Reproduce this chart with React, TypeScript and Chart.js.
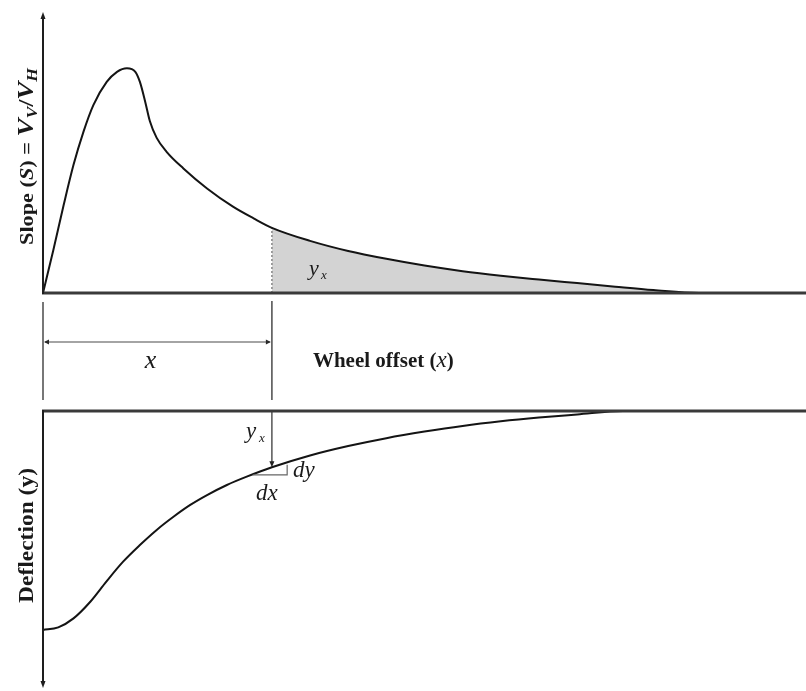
import { useEffect, useRef } from "react";
import { Chart, registerables } from "chart.js";

Chart.register(...registerables);

// Wheel offset (x) positions and the slope S = Vv/Vh read along them
const slopeOffsets = [0, 0.135, 0.27, 0.4, 0.53, 0.66, 0.835, 0.97, 1.1, 1.21, 1.27, 1.34, 1.4, 1.49, 1.62, 1.84, 2.15, 2.49, 2.76, 3.0, 3.5, 4.0, 4.5, 5.0, 5.5, 6.0, 6.5, 7.0, 7.5, 8.0, 8.6, 10];
const slopeValues = [0, 0.19, 0.39, 0.57, 0.717, 0.836, 0.939, 0.984, 1.0, 0.984, 0.939, 0.85, 0.765, 0.69, 0.628, 0.554, 0.465, 0.384, 0.332, 0.29, 0.232, 0.187, 0.152, 0.122, 0.097, 0.077, 0.06, 0.044, 0.028, 0.013, 0, 0];

// Deflection (y) along the same offsets
const deflOffsets = [0, 0.2, 0.4, 0.62, 0.83, 1.05, 1.27, 1.49, 1.71, 1.93, 2.15, 2.41, 2.67, 3.0, 3.5, 4.0, 4.5, 5.0, 5.5, 6.0, 6.5, 7.0, 7.6, 10];
const deflValues = [-1.0, -0.988, -0.947, -0.871, -0.779, -0.688, -0.612, -0.543, -0.483, -0.429, -0.384, -0.338, -0.3, -0.257, -0.203, -0.16, -0.124, -0.094, -0.068, -0.047, -0.03, -0.016, 0, 0];

// Offset where the shaded integral y_x begins
const markOffset = 3.0;
const shadeEnd = 8.6;

// Small dx / dy triangle on the deflection curve
const triX = [2.75, 3.2];
const triY = [-0.292, -0.245];

const SERIF = '"Liberation Serif", "Times New Roman", serif';

type Seg = { t: string; font: string; dy?: number };

function segWidth(ctx: CanvasRenderingContext2D, segs: Seg[]) {
  let w = 0;
  for (const s of segs) {
    ctx.font = s.font;
    w += ctx.measureText(s.t).width;
  }
  return w;
}

function drawSegs(ctx: CanvasRenderingContext2D, segs: Seg[], x: number, y: number) {
  let cx = x;
  for (const s of segs) {
    ctx.font = s.font;
    ctx.fillText(s.t, cx, y + (s.dy || 0));
    cx += ctx.measureText(s.t).width;
  }
}

// Vertical label reading bottom-to-top, stretched to a given run length
function drawVerticalLabel(ctx: CanvasRenderingContext2D, segs: Seg[], baseX: number, startY: number, length: number) {
  ctx.save();
  ctx.translate(baseX, startY);
  ctx.rotate(-Math.PI / 2);
  const w = segWidth(ctx, segs);
  ctx.scale(length / w, 1);
  ctx.textBaseline = "alphabetic";
  ctx.textAlign = "left";
  drawSegs(ctx, segs, 0, 0);
  ctx.restore();
}

function seg(ctx: CanvasRenderingContext2D, x1: number, y1: number, x2: number, y2: number) {
  ctx.beginPath();
  ctx.moveTo(x1, y1);
  ctx.lineTo(x2, y2);
  ctx.stroke();
}

function arrowHead(ctx: CanvasRenderingContext2D, tx: number, ty: number, dx: number, dy: number, len: number, half: number) {
  const bx = tx - dx * len;
  const by = ty - dy * len;
  ctx.beginPath();
  ctx.moveTo(tx, ty);
  ctx.lineTo(bx - dy * half, by + dx * half);
  ctx.lineTo(bx + dy * half, by - dx * half);
  ctx.closePath();
  ctx.fill();
}

const slopeDecor = {
  id: "slopeDecor",
  afterDatasetsDraw(chart: any) {
    const { ctx, chartArea, scales } = chart;
    const xs = scales.x;
    const ys = scales.y;
    const x0 = xs.getPixelForValue(0);
    const xm = xs.getPixelForValue(markOffset);
    const y0 = ys.getPixelForValue(0);
    ctx.save();

    // horizontal base axis
    ctx.strokeStyle = "#3a3a3a";
    ctx.lineWidth = 3;
    seg(ctx, x0 - 1, y0, chartArea.right, y0);

    // vertical slope axis with arrow
    ctx.strokeStyle = "#1e1e1e";
    ctx.fillStyle = "#1e1e1e";
    ctx.lineWidth = 2;
    seg(ctx, x0, y0 + 1, x0, chartArea.top + 4);
    arrowHead(ctx, x0, chartArea.top, 0, -1, 7, 2.5);

    // dimension lines for the offset x
    ctx.strokeStyle = "#4a4a4a";
    ctx.fillStyle = "#2a2a2a";
    ctx.lineWidth = 1.5;
    seg(ctx, x0, y0 + 9, x0, y0 + 107);
    seg(ctx, xm, y0 + 8, xm, y0 + 107);
    ctx.lineWidth = 1.2;
    seg(ctx, x0 + 2, y0 + 49, xm - 2, y0 + 49);
    arrowHead(ctx, x0 + 1, y0 + 49, -1, 0, 5, 2.5);
    arrowHead(ctx, xm - 1, y0 + 49, 1, 0, 5, 2.5);

    // labels
    ctx.fillStyle = "#1a1a1a";
    ctx.textBaseline = "alphabetic";
    ctx.textAlign = "center";
    ctx.font = `italic 26px ${SERIF}`;
    ctx.fillText("x", (x0 + xm) / 2 - 7, y0 + 75);

    ctx.textAlign = "left";
    drawSegs(
      ctx,
      [
        { t: "Wheel offset (", font: `bold 21px ${SERIF}` },
        { t: "x", font: `italic 23px ${SERIF}` },
        { t: ")", font: `bold 21px ${SERIF}` },
      ],
      xm + 41,
      y0 + 74
    );

    // y_x inside the shaded area
    drawSegs(ctx, [{ t: "y", font: `italic 22px ${SERIF}` }], xm + 37, y0 - 18);
    drawSegs(ctx, [{ t: "x", font: `italic 13px ${SERIF}` }], xm + 49, y0 - 14);

    // slope axis title
    drawVerticalLabel(
      ctx,
      [
        { t: "Slope (", font: `bold 19px ${SERIF}` },
        { t: "S", font: `bold italic 19px ${SERIF}` },
        { t: ") = ", font: `bold 19px ${SERIF}` },
        { t: "V", font: `bold italic 23px ${SERIF}` },
        { t: "V", font: `bold italic 15px ${SERIF}`, dy: 4 },
        { t: "/", font: `bold 22px ${SERIF}` },
        { t: "V", font: `bold italic 23px ${SERIF}` },
        { t: "H", font: `bold italic 15px ${SERIF}`, dy: 4 },
      ],
      33,
      245,
      177
    );
    ctx.restore();
  },
};

const deflDecor = {
  id: "deflDecor",
  afterDatasetsDraw(chart: any) {
    const { ctx, chartArea, scales } = chart;
    const xs = scales.x;
    const ys = scales.y;
    const x0 = xs.getPixelForValue(0);
    const xm = xs.getPixelForValue(markOffset);
    const y0 = ys.getPixelForValue(0);
    const markDefl = deflValues[deflOffsets.indexOf(markOffset)];
    const ym = ys.getPixelForValue(markDefl);
    ctx.save();

    // top reference line
    ctx.strokeStyle = "#3a3a3a";
    ctx.lineWidth = 3;
    seg(ctx, x0 - 1, y0, chartArea.right, y0);

    // vertical deflection axis with arrow pointing down
    ctx.strokeStyle = "#1e1e1e";
    ctx.fillStyle = "#1e1e1e";
    ctx.lineWidth = 2;
    seg(ctx, x0, y0 - 1, x0, chartArea.bottom - 4);
    arrowHead(ctx, x0, chartArea.bottom, 0, 1, 7, 2.5);

    // y_x arrow from the reference line to the curve
    ctx.strokeStyle = "#3a3a3a";
    ctx.fillStyle = "#222";
    ctx.lineWidth = 1.3;
    seg(ctx, xm, y0 + 1, xm, ym - 4);
    arrowHead(ctx, xm, ym, 0, 1, 6, 2.5);

    // dx / dy triangle
    ctx.strokeStyle = "#666";
    ctx.lineWidth = 1.2;
    const tx1 = xs.getPixelForValue(triX[0]);
    const tx2 = xs.getPixelForValue(triX[1]);
    const ty1 = ys.getPixelForValue(triY[0]);
    const ty2 = ys.getPixelForValue(triY[1]);
    ctx.beginPath();
    ctx.moveTo(tx1, ty1);
    ctx.lineTo(tx2, ty1);
    ctx.lineTo(tx2, ty2);
    ctx.stroke();

    // labels
    ctx.fillStyle = "#1a1a1a";
    ctx.textBaseline = "alphabetic";
    ctx.textAlign = "left";
    drawSegs(ctx, [{ t: "y", font: `italic 23px ${SERIF}` }], xm - 26, y0 + 27);
    drawSegs(ctx, [{ t: "x", font: `italic 13px ${SERIF}` }], xm - 13, y0 + 31);
    drawSegs(ctx, [{ t: "dy", font: `italic 23px ${SERIF}` }], xm + 21, ym + 10);
    drawSegs(ctx, [{ t: "dx", font: `italic 23px ${SERIF}` }], xm - 16, ym + 33);

    drawVerticalLabel(ctx, [{ t: "Deflection (y)", font: `bold 22px ${SERIF}` }], 33, chartArea.top + 192, 135);
    ctx.restore();
  },
};

export default function App() {
  const topRef = useRef<HTMLCanvasElement>(null);
  const botRef = useRef<HTMLCanvasElement>(null);

  useEffect(() => {
    const slopePts = slopeOffsets.map((x, i) => ({ x, y: slopeValues[i] }));
    const shadePts = slopePts.filter((p) => p.x >= markOffset && p.x <= shadeEnd);
    const markSlope = slopeValues[slopeOffsets.indexOf(markOffset)];
    const deflPts = deflOffsets.map((x, i) => ({ x, y: deflValues[i] }));

    const common: any = {
      responsive: false,
      maintainAspectRatio: false,
      devicePixelRatio: 1,
      animation: false,
      events: [],
      plugins: { legend: { display: false }, tooltip: { enabled: false } },
      elements: { point: { radius: 0 } },
    };

    const top = new Chart(topRef.current!, {
      type: "line",
      data: {
        datasets: [
          {
            data: slopePts,
            borderColor: "#141414",
            borderWidth: 2,
            cubicInterpolationMode: "monotone",
            fill: false,
            order: 0,
          },
          {
            data: [
              { x: markOffset, y: 0 },
              { x: markOffset, y: markSlope },
            ],
            borderColor: "#555",
            borderWidth: 1,
            borderDash: [2, 2],
            fill: false,
            order: 1,
          },
          {
            data: shadePts,
            borderWidth: 0,
            borderColor: "rgba(0,0,0,0)",
            backgroundColor: "#d3d3d3",
            cubicInterpolationMode: "monotone",
            fill: "origin",
            order: 2,
          },
        ],
      },
      options: {
        ...common,
        layout: { padding: { left: 43, right: 0, top: 12, bottom: 112 } },
        scales: {
          x: { type: "linear", min: 0, max: 10, display: false },
          y: { min: 0, max: 1.25, display: false },
        },
      },
      plugins: [slopeDecor],
    });

    const bottom = new Chart(botRef.current!, {
      type: "line",
      data: {
        datasets: [
          {
            data: deflPts,
            borderColor: "#141414",
            borderWidth: 2,
            cubicInterpolationMode: "monotone",
            fill: false,
            clip: false,
          },
        ],
      },
      options: {
        ...common,
        layout: { padding: { left: 43, right: 0, top: 6, bottom: 3 } },
        scales: {
          x: { type: "linear", min: 0, max: 10, display: false },
          y: { min: -1.265, max: 0, display: false },
        },
      },
      plugins: [deflDecor],
    });

    return () => {
      top.destroy();
      bottom.destroy();
    };
  }, []);

  return (
    <div style={{ position: "absolute", left: 0, top: 0, width: 806, height: 691, background: "#fff" }}>
      <canvas ref={topRef} width={806} height={405} style={{ position: "absolute", left: 0, top: 0 }} />
      <canvas ref={botRef} width={806} height={286} style={{ position: "absolute", left: 0, top: 405 }} />
    </div>
  );
}
